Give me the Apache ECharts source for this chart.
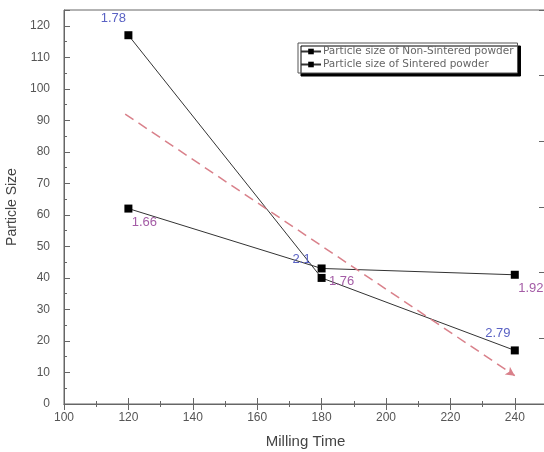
<!DOCTYPE html>
<html>
<head>
<meta charset="utf-8">
<script src="https://cdn.jsdelivr.net/npm/echarts@6/dist/echarts.min.js"></script>
<style>html,body{margin:0;padding:0;background:#fff}#c{width:544px;height:452px}</style>
</head>
<body>
<div id="c"></div>
<script>
// ---- data ----
const millingTime = [120, 180, 240];
const nonSintered = [117, 40, 17];
const sintered = [62, 43, 41];
const nonSinteredLabels = ['1.78', '1.76', '2.79'];
const sinteredLabels = ['1.66', '2.1', '1.92'];
const trendStart = [119, 92];
const trendEnd = [240, 9];
const seriesNames = ['Particle size of Non-Sintered powder', 'Particle size of Sintered powder'];

// ---- style ----
const BLUE = '#5a62c4', PURPLE = '#a45ca6';
const nonSinteredLabelStyle = [
  {color: BLUE, offset: [-15, -17]},
  {color: PURPLE, offset: [20, 4]},
  {color: BLUE, offset: [-17, -17]}
];
const sinteredLabelStyle = [
  {color: PURPLE, offset: [16, 14]},
  {color: BLUE, offset: [-20, -9]},
  {color: PURPLE, offset: [16, 14]}
];
const AX = '#666';
const FONT = 'Liberation Sans';

function build(ys, labels, styles) {
  return millingTime.map((x, i) => ({
    value: [x, ys[i]],
    label: {show: true, position: 'inside', formatter: labels[i], color: styles[i].color,
            offset: styles[i].offset, fontSize: 13, fontFamily: FONT}
  }));
}

const chart = echarts.init(document.getElementById('c'));
chart.setOption({
  animation: false,
  backgroundColor: '#fff',
  grid: {left: 64, right: -3, top: 10, bottom: 48, containLabel: false, outerBoundsMode: 'none',
         show: true, borderColor: AX, borderWidth: 1, backgroundColor: 'transparent'},
  legend: {
    orient: 'vertical', left: 298, top: 43,
    data: seriesNames,
    itemWidth: 20, itemHeight: 7, itemGap: 2,
    padding: [3, 4, 3, 2],
    backgroundColor: '#fff', borderColor: '#555', borderWidth: 1,
    shadowColor: '#000', shadowBlur: 0.01, shadowOffsetX: 3, shadowOffsetY: 3,
    textStyle: {fontSize: 10.5, color: '#666', fontFamily: 'DejaVu Sans', padding: [0,0,0,-3]}
  },
  xAxis: [{
    type: 'value', min: 100, max: 250, interval: 20,
    name: 'Milling Time', nameLocation: 'middle', nameGap: 30,
    nameTextStyle: {fontSize: 15, color: '#444', fontFamily: FONT},
    axisLine: {show: true, lineStyle: {color: AX}},
    axisTick: {show: true, inside: true, length: 6, lineStyle: {color: AX}},
    minorTick: {show: true, splitNumber: 2, length: 3, lineStyle: {color: AX}},
    axisLabel: {color: '#555', fontSize: 12, fontFamily: FONT, margin: 8, showMaxLabel: false},
    splitLine: {show: false}
  }, {
    type: 'value', min: 100, max: 250, interval: 20, position: 'top',
    axisLine: {show: true, lineStyle: {color: AX}},
    axisTick: {show: true, inside: true, length: 6, lineStyle: {color: AX}},
    minorTick: {show: true, splitNumber: 2, length: 3, lineStyle: {color: AX}},
    axisLabel: {show: false},
    splitLine: {show: false}
  }],
  yAxis: [{
    type: 'value', min: 0, max: 125, interval: 10,
    name: 'Particle Size', nameLocation: 'middle', nameGap: 37, nameRotate: 90,
    nameTextStyle: {fontSize: 14, color: '#444', fontFamily: FONT},
    axisLine: {show: true, lineStyle: {color: AX}},
    axisTick: {show: true, inside: true, length: 6, lineStyle: {color: AX}},
    minorTick: {show: true, splitNumber: 2, length: 3, lineStyle: {color: AX}},
    axisLabel: {color: '#555', fontSize: 12, fontFamily: FONT, margin: 14, showMaxLabel: false},
    splitLine: {show: false}
  }, {
    type: 'value', min: 0, max: 6, interval: 1, position: 'right',
    axisLine: {show: true, lineStyle: {color: AX}},
    axisTick: {show: true, inside: true, length: 8, lineStyle: {color: AX}},
    axisLabel: {show: false},
    splitLine: {show: false}
  }],
  series: [{
    name: seriesNames[0], type: 'line',
    data: build(nonSintered, nonSinteredLabels, nonSinteredLabelStyle),
    symbol: 'rect', symbolSize: 8,
    itemStyle: {color: '#000'}, lineStyle: {color: '#333', width: 1},
    z: 3
  }, {
    name: seriesNames[1], type: 'line',
    data: build(sintered, sinteredLabels, sinteredLabelStyle),
    symbol: 'rect', symbolSize: 8,
    itemStyle: {color: '#000'}, lineStyle: {color: '#333', width: 1},
    z: 3
  }, {
    name: 'trend', type: 'line', data: [],
    markLine: {
      silent: true, symbol: ['none', 'arrow'], symbolSize: [7, 9],
      label: {show: false},
      lineStyle: {color: '#d9808a', type: [10, 6], width: 1.5},
      data: [[{coord: trendStart}, {coord: trendEnd}]]
    },
    z: 2
  }]
});
</script>
</body>
</html>
